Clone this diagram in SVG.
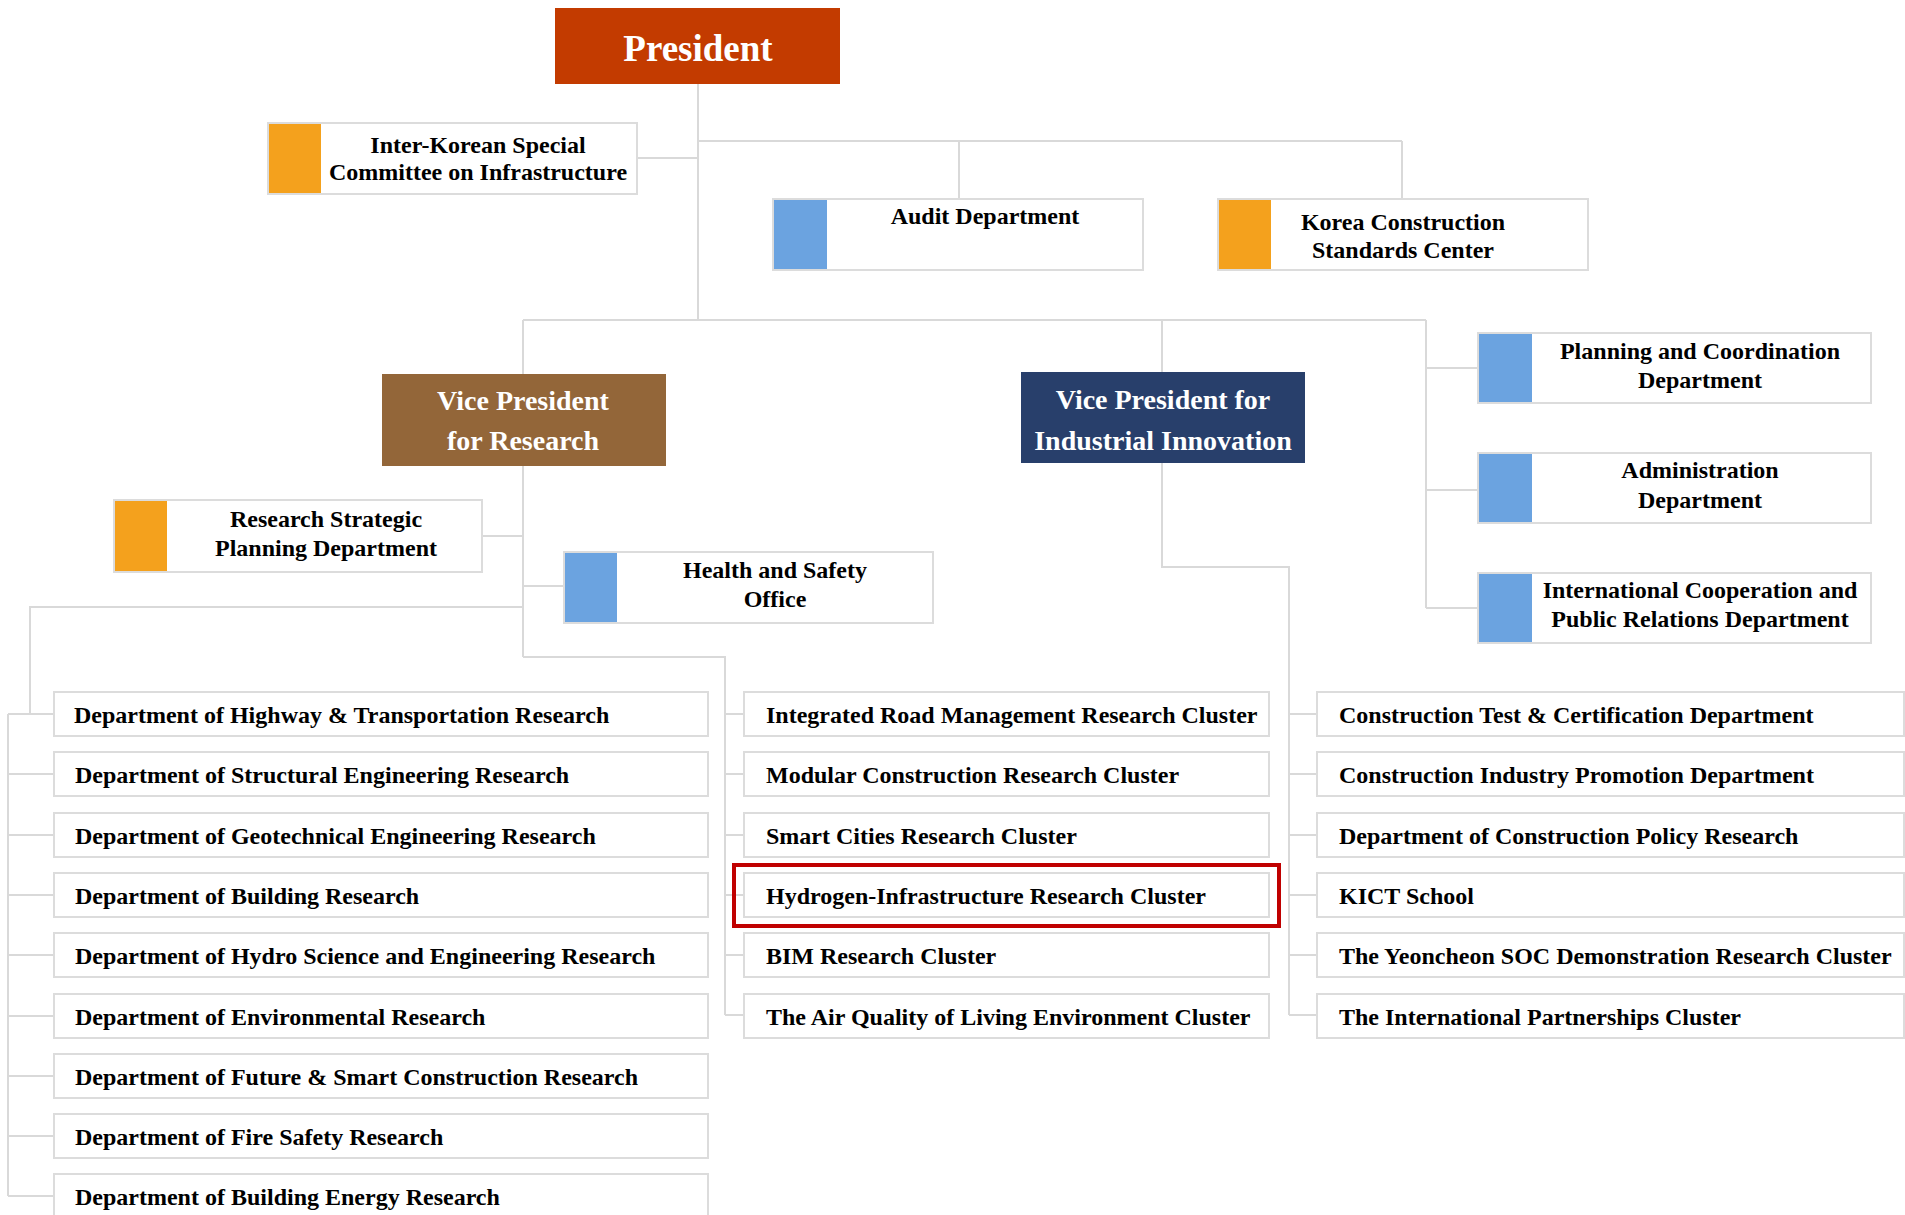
<svg xmlns="http://www.w3.org/2000/svg" width="1905" height="1215" viewBox="0 0 1905 1215">
  <style>
    text { font-family: "Liberation Serif", "Times New Roman", serif; font-weight: bold; }
    .lead { fill: #ffffff; text-anchor: middle; }
    .pres { font-size: 37px; }
    .vp { font-size: 28px; }
    .box { fill: #ffffff; stroke: #dcdcdc; stroke-width: 2; }
    .lbl { fill: #000000; font-size: 24px; }
    .mid { text-anchor: middle; }
    .orange { fill: #f4a11d; }
    .blue { fill: #6ba3e0; }
    .wire { fill: none; stroke: #d9d9d9; stroke-width: 2; }
  </style>

  <rect width="1905" height="1215" fill="#ffffff"/>

  <!-- connectors -->
  <g id="connectors" class="wire">
    <path d="M698,84 V320"/>
    <path d="M637,158 H698"/>
    <path d="M698,141 H1402 M959,141 V199 M1402,141 V199"/>
    <path d="M523,320 H1426 M523,320 V374 M1162,320 V372 M1426,320 V608"/>
    <path d="M1426,368 H1478 M1426,490 H1478 M1426,608 H1478"/>
    <path d="M523,466 V657 M482,536 H523 M523,586 H564"/>
    <path d="M523,607 H30 V714"/>
    <path d="M8,714 V1196"/>
    <path d="M8,714 H54 M8,774 H54 M8,835 H54 M8,895 H54 M8,955 H54 M8,1016 H54 M8,1076 H54 M8,1136 H54 M8,1196 H54"/>
    <path d="M523,657 H725 V1015"/>
    <path d="M725,714 H744 M725,774 H744 M725,835 H744 M725,895 H744 M725,955 H744 M725,1015 H744"/>
    <path d="M1162,463 V567 H1289 V1015"/>
    <path d="M1289,714 H1317 M1289,774 H1317 M1289,835 H1317 M1289,895 H1317 M1289,955 H1317 M1289,1015 H1317"/>
  </g>

  <!-- leadership -->
  <g id="president">
    <rect x="555" y="8" width="285" height="76" fill="#c33b00"/>
    <text class="lead pres" x="698" y="61">President</text>
  </g>
  <g id="vp-research">
    <rect x="382" y="374" width="284" height="92" fill="#936639"/>
    <text class="lead vp" x="523" y="410">Vice President</text>
    <text class="lead vp" x="523" y="450">for Research</text>
  </g>
  <g id="vp-industrial">
    <rect x="1021" y="372" width="284" height="91" fill="#283f6b"/>
    <text class="lead vp" x="1163" y="409">Vice President for</text>
    <text class="lead vp" x="1163" y="450">Industrial Innovation</text>
  </g>

  <!-- staff units with colour tab -->
  <g id="inter-korean">
    <rect class="box" x="268" y="123" width="369" height="71"/>
    <rect class="orange" x="269" y="124" width="52" height="69"/>
    <text class="lbl mid" x="478" y="153">Inter-Korean Special</text>
    <text class="lbl mid" x="478" y="180">Committee on Infrastructure</text>
  </g>
  <g id="audit">
    <rect class="box" x="773" y="199" width="370" height="71"/>
    <rect class="blue" x="774" y="200" width="53" height="69"/>
    <text class="lbl mid" x="985" y="224">Audit Department</text>
  </g>
  <g id="kcsc">
    <rect class="box" x="1218" y="199" width="370" height="71"/>
    <rect class="orange" x="1219" y="200" width="52" height="69"/>
    <text class="lbl mid" x="1403" y="230">Korea Construction</text>
    <text class="lbl mid" x="1403" y="258">Standards Center</text>
  </g>
  <g id="planning">
    <rect class="box" x="1478" y="333" width="393" height="70"/>
    <rect class="blue" x="1479" y="334" width="53" height="68"/>
    <text class="lbl mid" x="1700" y="359">Planning and Coordination</text>
    <text class="lbl mid" x="1700" y="388">Department</text>
  </g>
  <g id="administration">
    <rect class="box" x="1478" y="453" width="393" height="70"/>
    <rect class="blue" x="1479" y="454" width="53" height="68"/>
    <text class="lbl mid" x="1700" y="478">Administration</text>
    <text class="lbl mid" x="1700" y="508">Department</text>
  </g>
  <g id="international">
    <rect class="box" x="1478" y="573" width="393" height="70"/>
    <rect class="blue" x="1479" y="574" width="53" height="68"/>
    <text class="lbl mid" x="1700" y="598">International Cooperation and</text>
    <text class="lbl mid" x="1700" y="627">Public Relations Department</text>
  </g>
  <g id="research-strategic">
    <rect class="box" x="114" y="500" width="368" height="72"/>
    <rect class="orange" x="115" y="501" width="52" height="70"/>
    <text class="lbl mid" x="326" y="527">Research Strategic</text>
    <text class="lbl mid" x="326" y="556">Planning Department</text>
  </g>
  <g id="health-safety">
    <rect class="box" x="564" y="552" width="369" height="71"/>
    <rect class="blue" x="565" y="553" width="52" height="69"/>
    <text class="lbl mid" x="775" y="578">Health and Safety</text>
    <text class="lbl mid" x="775" y="607">Office</text>
  </g>

  <!-- research departments -->
  <g id="dept-highway"><rect class="box" x="54" y="692" width="654" height="44"/><text class="lbl" x="74" y="723">Department of Highway &amp; Transportation Research</text></g>
  <g id="dept-structural"><rect class="box" x="54" y="752" width="654" height="44"/><text class="lbl" x="75" y="783">Department of Structural Engineering Research</text></g>
  <g id="dept-geotechnical"><rect class="box" x="54" y="813" width="654" height="44"/><text class="lbl" x="75" y="844">Department of Geotechnical Engineering Research</text></g>
  <g id="dept-building"><rect class="box" x="54" y="873" width="654" height="44"/><text class="lbl" x="75" y="904">Department of Building Research</text></g>
  <g id="dept-hydro"><rect class="box" x="54" y="933" width="654" height="44"/><text class="lbl" x="75" y="964">Department of Hydro Science and Engineering Research</text></g>
  <g id="dept-environmental"><rect class="box" x="54" y="994" width="654" height="44"/><text class="lbl" x="75" y="1025">Department of Environmental Research</text></g>
  <g id="dept-future"><rect class="box" x="54" y="1054" width="654" height="44"/><text class="lbl" x="75" y="1085">Department of Future &amp; Smart Construction Research</text></g>
  <g id="dept-fire"><rect class="box" x="54" y="1114" width="654" height="44"/><text class="lbl" x="75" y="1145">Department of Fire Safety Research</text></g>
  <g id="dept-energy"><rect class="box" x="54" y="1174" width="654" height="50"/><text class="lbl" x="75" y="1205">Department of Building Energy Research</text></g>

  <!-- research clusters -->
  <g id="cluster-road"><rect class="box" x="744" y="692" width="525" height="44"/><text class="lbl" x="766" y="723">Integrated Road Management Research Cluster</text></g>
  <g id="cluster-modular"><rect class="box" x="744" y="752" width="525" height="44"/><text class="lbl" x="766" y="783">Modular Construction Research Cluster</text></g>
  <g id="cluster-smart"><rect class="box" x="744" y="813" width="525" height="44"/><text class="lbl" x="766" y="844">Smart Cities Research Cluster</text></g>
  <g id="cluster-hydrogen">
    <rect class="box" x="744" y="873" width="525" height="44"/>
    <text class="lbl" x="766" y="904">Hydrogen-Infrastructure Research Cluster</text>
    <rect x="734" y="865" width="545" height="61" fill="none" stroke="#c00000" stroke-width="4"/>
  </g>
  <g id="cluster-bim"><rect class="box" x="744" y="933" width="525" height="44"/><text class="lbl" x="766" y="964">BIM Research Cluster</text></g>
  <g id="cluster-air"><rect class="box" x="744" y="994" width="525" height="44"/><text class="lbl" x="766" y="1025">The Air Quality of Living Environment Cluster</text></g>

  <!-- industrial innovation units -->
  <g id="unit-test"><rect class="box" x="1317" y="692" width="587" height="44"/><text class="lbl" x="1339" y="723">Construction Test &amp; Certification Department</text></g>
  <g id="unit-promotion"><rect class="box" x="1317" y="752" width="587" height="44"/><text class="lbl" x="1339" y="783">Construction Industry Promotion Department</text></g>
  <g id="unit-policy"><rect class="box" x="1317" y="813" width="587" height="44"/><text class="lbl" x="1339" y="844">Department of Construction Policy Research</text></g>
  <g id="unit-school"><rect class="box" x="1317" y="873" width="587" height="44"/><text class="lbl" x="1339" y="904">KICT School</text></g>
  <g id="unit-yeoncheon"><rect class="box" x="1317" y="933" width="587" height="44"/><text class="lbl" x="1339" y="964">The Yeoncheon SOC Demonstration Research Cluster</text></g>
  <g id="unit-partnerships"><rect class="box" x="1317" y="994" width="587" height="44"/><text class="lbl" x="1339" y="1025">The International Partnerships Cluster</text></g>
</svg>
